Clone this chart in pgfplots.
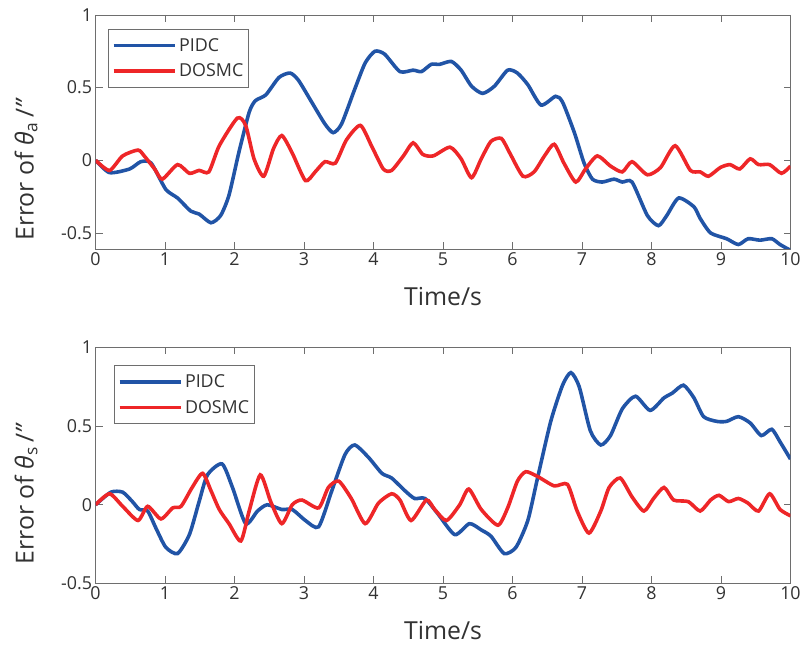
\documentclass[border=0pt]{standalone}
\usepackage{fontspec}
\setmainfont{Open Sans}
\usepackage{pgfplots}
\pgfplotsset{compat=1.18}
\definecolor{pidc}{RGB}{33,84,166}
\definecolor{dosmc}{RGB}{238,38,40}
\definecolor{axgray}{RGB}{110,110,110}
\definecolor{txt}{RGB}{50,50,50}

\pgfplotsset{
  errstyle/.style={
    scale only axis,
    width=698bp,
    xmin=0, xmax=10,
    xtick={0,1,...,10},
    ytick={-0.5,0,0.5,1},
    tick align=inside,
    major tick length=7bp,
    axis line style={axgray, line width=0.8bp},
    every tick/.style={axgray, line width=0.8bp},
    tick label style={font=\fontsize{18}{20}\selectfont, text=txt},
    /pgf/number format/assume math mode=true,
    label style={font=\fontsize{25}{28}\selectfont, text=txt},
    legend style={font=\fontsize{18}{20}\selectfont, text=txt, draw=axgray,
      line width=0.8bp, anchor=north west, inner xsep=3bp, inner ysep=7bp,
      row sep=7bp, nodes={inner xsep=2bp}},
    legend cell align=left,
    legend image code/.code={\draw[#1, line width=3.6bp] (0bp,0bp) -- (62bp,0bp);},
    every axis plot/.append style={line width=3.6bp, smooth, tension=0.4},
  }
}

\begin{document}
\begin{tikzpicture}
% theta_a
\begin{axis}[errstyle, name=top, at={(0,0)}, anchor=north west,
    height=235bp, ymin=-0.61, ymax=1,
    xlabel={Time/s},
    xlabel style={at={(axis description cs:0.5,-0.205)}, anchor=center},
    ylabel={Error of \textit{θ}\textsubscript{a}\,/\textit{"}},
    ylabel style={at={(axis description cs:-0.1,0.34)}, anchor=center},
    legend style={at={(0.0186,0.94)}}]
\addplot[pidc] coordinates {
(0,0)(0.2,-0.085)(0.49,-0.06)(0.65,-0.01)(0.8,-0.02)(1.01,-0.2)(1.18,-0.26)
(1.37,-0.35)(1.49,-0.37)(1.66,-0.43)(1.80,-0.38)(1.92,-0.24)(2.06,0.05)
(2.21,0.33)(2.30,0.41)(2.45,0.45)(2.64,0.57)(2.80,0.60)(2.92,0.55)(3.11,0.40)
(3.30,0.25)(3.42,0.19)(3.54,0.25)(3.73,0.49)(3.88,0.67)(4.02,0.75)(4.16,0.73)
(4.38,0.61)(4.57,0.62)(4.69,0.61)(4.83,0.66)(4.95,0.66)(5.12,0.68)(5.26,0.62)
(5.41,0.51)(5.57,0.46)(5.74,0.51)(5.93,0.62)(6.07,0.60)(6.22,0.52)(6.41,0.38)
(6.62,0.44)(6.72,0.40)(6.89,0.19)(7.03,-0.02)(7.15,-0.13)(7.29,-0.15)
(7.46,-0.13)(7.58,-0.15)(7.72,-0.15)(7.94,-0.38)(8.10,-0.45)(8.22,-0.38)
(8.39,-0.26)(8.61,-0.32)(8.70,-0.40)(8.85,-0.50)(9.08,-0.54)(9.25,-0.58)
(9.39,-0.54)(9.56,-0.55)(9.73,-0.54)(9.85,-0.58)(10,-0.62)
};
\addlegendentry{PIDC}
\addplot[dosmc] coordinates {
(0,0)(0.2,-0.07)(0.39,0.03)(0.61,0.07)(0.70,0.03)(0.85,-0.06)(0.96,-0.13)
(1.18,-0.03)(1.35,-0.09)(1.49,-0.07)(1.63,-0.08)(1.78,0.10)(2.04,0.29)
(2.16,0.24)(2.28,0.01)(2.42,-0.11)(2.56,0.08)(2.68,0.17)(2.83,0.05)(3.02,-0.14)
(3.16,-0.08)(3.30,-0.01)(3.45,-0.02)(3.61,0.14)(3.81,0.24)(3.97,0.10)
(4.14,-0.06)(4.26,-0.07)(4.43,0.03)(4.57,0.12)(4.71,0.04)(4.86,0.03)(5.1,0.09)
(5.26,0.01)(5.41,-0.12)(5.55,0.01)(5.69,0.13)(5.84,0.15)(5.96,0.05)(6.15,-0.11)
(6.31,-0.08)(6.46,0.03)(6.60,0.11)(6.74,-0.02)(6.91,-0.15)(7.05,-0.06)
(7.22,0.03)(7.41,-0.04)(7.58,-0.08)(7.72,-0.01)(7.94,-0.10)(8.13,-0.05)
(8.34,0.10)(8.56,-0.07)(8.70,-0.08)(8.82,-0.11)(8.99,-0.05)(9.13,-0.03)
(9.27,-0.06)(9.42,0.01)(9.54,-0.03)(9.70,-0.03)(9.87,-0.09)(10,-0.04)
};
\addlegendentry{DOSMC}
\end{axis}

% theta_s
\begin{axis}[errstyle, at={(0,-334bp)}, anchor=north west,
    height=237bp, ymin=-0.5, ymax=1,
    xlabel={Time/s},
    xlabel style={at={(axis description cs:0.5,-0.198)}, anchor=center},
    ylabel={Error of \textit{θ}\textsubscript{s}\,/\textit{"}},
    ylabel style={at={(axis description cs:-0.1,0.38)}, anchor=center},
    legend style={at={(0.027,0.924)}}]
\addplot[pidc] coordinates {
(0,0)(0.22,0.08)(0.39,0.08)(0.53,0.02)(0.63,-0.03)(0.75,-0.04)(0.87,-0.15)
(1.01,-0.27)(1.18,-0.31)(1.35,-0.19)(1.49,0.02)(1.61,0.19)(1.82,0.26)(1.97,0.11)
(2.16,-0.12)(2.33,-0.04)(2.47,0.0)(2.68,-0.03)(2.83,-0.03)(3.02,-0.10)
(3.21,-0.14)(3.40,0.09)(3.59,0.32)(3.73,0.38)(3.93,0.30)(4.12,0.20)(4.26,0.17)
(4.45,0.09)(4.59,0.04)(4.74,0.04)(4.93,-0.06)(5.17,-0.19)(5.38,-0.12)
(5.55,-0.16)(5.69,-0.20)(5.88,-0.31)(6.05,-0.27)(6.22,-0.10)(6.36,0.17)
(6.55,0.53)(6.72,0.76)(6.84,0.84)(6.96,0.75)(7.12,0.47)(7.27,0.38)(7.41,0.44)
(7.58,0.61)(7.77,0.69)(7.98,0.60)(8.18,0.68)(8.30,0.71)(8.46,0.76)(8.61,0.68)
(8.75,0.56)(8.94,0.53)(9.08,0.53)(9.25,0.56)(9.42,0.52)(9.58,0.44)(9.73,0.48)
(9.85,0.40)(10,0.29)
};
\addlegendentry{PIDC}
\addplot[dosmc] coordinates {
(0,0)(0.2,0.07)(0.39,-0.01)(0.61,-0.10)(0.75,-0.01)(0.94,-0.09)(1.11,-0.02)
(1.23,-0.01)(1.39,0.11)(1.54,0.20)(1.66,0.09)(1.78,-0.03)(1.92,-0.12)
(2.09,-0.23)(2.21,-0.04)(2.37,0.19)(2.52,0.02)(2.68,-0.12)(2.83,0.0)(2.97,0.03)
(3.21,-0.02)(3.35,0.11)(3.50,0.15)(3.68,0.04)(3.88,-0.12)(4.07,0.01)(4.26,0.07)
(4.38,0.03)(4.54,-0.10)(4.76,0.03)(4.88,-0.03)(5.05,-0.10)(5.24,0.0)(5.37,0.10)
(5.55,-0.03)(5.79,-0.13)(5.93,-0.02)(6.07,0.15)(6.19,0.21)(6.36,0.18)
(6.60,0.12)(6.79,0.13)(6.93,-0.04)(7.10,-0.18)(7.27,-0.04)(7.39,0.11)
(7.55,0.17)(7.72,0.05)(7.89,-0.04)(8.03,0.04)(8.18,0.11)(8.32,0.03)(8.53,0.02)
(8.70,-0.04)(8.85,0.03)(8.97,0.06)(9.11,0.02)(9.25,0.04)(9.39,0.01)(9.54,-0.04)
(9.70,0.07)(9.85,-0.03)(10,-0.07)
};
\addlegendentry{DOSMC}
\end{axis}
% page frame matching the reference's margins
\path ([shift={(-96bp,15bp)}]top.north west) rectangle ([shift={(708bp,-635bp)}]top.north west);
\end{tikzpicture}
\end{document}
